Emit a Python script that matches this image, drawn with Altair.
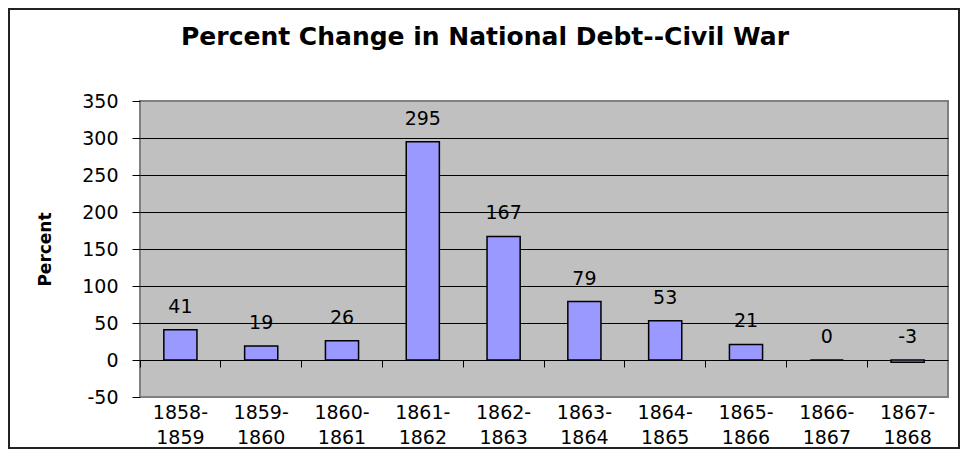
import altair as alt
import pandas as pd

periods = ["1858-1859", "1859-1860", "1860-1861", "1861-1862", "1862-1863",
           "1863-1864", "1864-1865", "1865-1866", "1866-1867", "1867-1868"]
percent = [41, 19, 26, 295, 167, 79, 53, 21, 0, -3]
y_ticks = [-50, 0, 50, 100, 150, 200, 250, 300, 350]

df = pd.DataFrame({"period": periods, "percent": percent})
df["label"] = df["percent"].astype(str)
frame_df = pd.DataFrame({"k": [0]})

FONT = "DejaVu Sans"
W, H = 808, 296

x_scale = alt.Scale(paddingInner=0, paddingOuter=0)
y_scale = alt.Scale(domain=[-50, 350], nice=False, zero=False)

y_axis = alt.Axis(
    values=y_ticks, title="Percent", titleFont=FONT, titleFontSize=17,
    titleFontWeight="bold", titleColor="black", titleX=-95, titleY=H / 2,
    titleAngle=-90, titleBaseline="middle", titleAlign="center",
    labelFont=FONT, labelFontSize=19, labelColor="black", labelPadding=14,
    labelOverlap=False, labelExpr="datum.value + ''",
    tickSize=8, tickColor="black", domain=False, grid=True,
    gridColor={"condition": {"test": "datum.value == -50 || datum.value == 350",
                             "value": "#808080"}, "value": "black"},
    gridWidth=1,
)

bars = alt.Chart(df).mark_bar(color="#9999FF", stroke="black", strokeWidth=1.5,
                              width={"band": 0.41}).encode(
    x=alt.X("period:N", sort=periods, scale=x_scale,
            axis=alt.Axis(orient="bottom", title=None, labelAngle=0, labelFont=FONT,
                          labelFontSize=19, labelColor="black", labelPadding=6,
                          labelLineHeight=25, labelBaseline="top", labelOverlap=False,
                          labelExpr="[slice(datum.label, 0, 5), slice(datum.label, 5)]",
                          ticks=False, domain=False, grid=False)),
    y=alt.Y("percent:Q", scale=y_scale, axis=y_axis),
)

labels = alt.Chart(df).transform_calculate(
    label_y="max(datum.percent, 0)"
).mark_text(font=FONT, fontSize=19, color="black", baseline="alphabetic", dy=-17).encode(
    x=alt.X("period:N", sort=periods, scale=x_scale,
            axis=alt.Axis(orient="bottom", title=None, labels=False, ticks=True,
                          bandPosition=0, tickSize=7, tickColor="black",
                          domain=False, grid=False, offset=-37)),
    y=alt.Y("label_y:Q", scale=y_scale, axis=y_axis),
    text=alt.Text("label:N"),
)

frame = alt.Chart(frame_df).mark_rect(fillOpacity=0, stroke="#222222", strokeWidth=2).encode(
    x=alt.value(-131), x2=alt.value(819), y=alt.value(-92), y2=alt.value(347)
)

chart = alt.layer(bars, labels, frame).resolve_axis(x="independent").properties(
    width=W, height=H,
    title=alt.TitleParams(
        "Percent Change in National Debt--Civil War", font=FONT, fontSize=25,
        fontWeight="bold", color="black", anchor="middle", frame="group",
        dx=-59, offset=-62, baseline="alphabetic"),
    autosize=alt.AutoSizeParams(type="none"),
    padding={"left": 132, "top": 93, "right": 13, "bottom": 52},
    background="white",
).configure_view(fill="#C0C0C0", stroke="#808080", strokeWidth=2)

chart.save("out.html", embed_options={"renderer": "svg", "actions": False})
